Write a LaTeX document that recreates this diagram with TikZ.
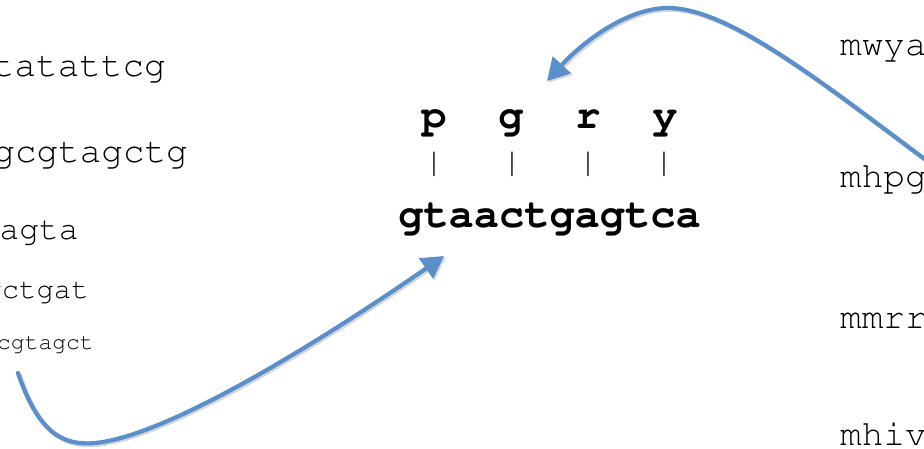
\documentclass[tikz,border=0pt]{standalone}
\usepackage[T1]{fontenc}
\renewcommand{\ttdefault}{pcr}
\usetikzlibrary{arrows.meta}
\definecolor{arrowblue}{RGB}{90,143,204}
\tikzset{
  seqtxt/.style={font=\ttfamily\fontsize{#1}{#1}\selectfont, inner sep=0pt, text=black},
  boldtxt/.style={font=\ttfamily\bfseries\fontsize{42}{42}\selectfont, inner sep=0pt, anchor=base, text=black},
  bartxt/.style={font=\ttfamily\fontsize{34}{34}\selectfont, inner sep=0pt, anchor=center, text=black},
  link/.style={draw=arrowblue, line width=4.2pt, line cap=round,
    -{Triangle[length=22pt,width=24pt]},
    preaction={draw=black, opacity=0.16, line width=4.5pt,
      transform canvas={shift={(1.6pt,-1.6pt)}}}}
}
\begin{document}
\begin{tikzpicture}[x=1pt,y=-1pt]
\useasboundingbox (0,0) rectangle (924,448);
\clip (0,0) rectangle (924,448);
\fill[white] (0,0) rectangle (924,448);
% left column (cut at the left edge)
\node[seqtxt=36, anchor=base east] (L1) at (166,76) {tatattcg};
\node[seqtxt=36, anchor=base east] (L2) at (188,162) {gcgtagctg};
\node[seqtxt=33, anchor=base east] (L3) at (79,239) {agta};
\node[seqtxt=29, anchor=base east] (L4) at (89,298) {gctgat};
\node[seqtxt=23, anchor=base east] (L5) at (94,349) {cgtagct};
% right column (cut at the right edge)
\node[seqtxt=36, anchor=base west] (R1) at (840,55) {mwya};
\node[seqtxt=36, anchor=base west] (R2) at (840,187) {mhpg};
\node[seqtxt=36, anchor=base west] (R3) at (840,328) {mmrr};
\node[seqtxt=36, anchor=base west] (R4) at (840,445) {mhiv};
% centre
\node[boldtxt] (P) at (434,128) {p};
\node[boldtxt] (G) at (511,128) {g};
\node[boldtxt] (Rr) at (588,128) {r};
\node[boldtxt] (Y) at (665,128) {y};
\node[bartxt] (B1) at (434,164) {|};
\node[bartxt] (B2) at (512,164) {|};
\node[bartxt] (B3) at (588,164) {|};
\node[bartxt] (B4) at (664,164) {|};
\node[boldtxt] (seq) at (549.5,227) {gtaactgagtca};
% connectors
\coordinate (a1s) at (18,373);
\coordinate (a1e) at (444,256);
\coordinate (a2s) at (942,172);
\coordinate (a2e) at (547,81);
\draw[link] (a1s) .. controls (38,432) and (62,446) .. (95,443)
  .. controls (170,436) and (330,335) .. (a1e);
\draw[link] (a2s) .. controls (825,85) and (730,8) .. (668,8)
  .. controls (625,8) and (580,45) .. (a2e);
\end{tikzpicture}
\end{document}
